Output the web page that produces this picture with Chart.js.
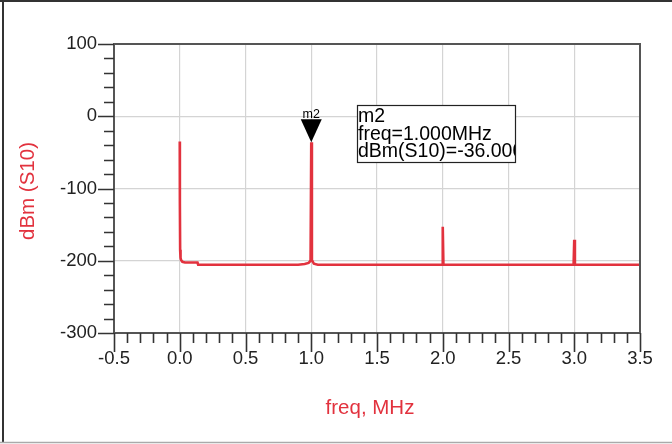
<!DOCTYPE html>
<html>
<head>
<meta charset="utf-8">
<script src="https://cdn.jsdelivr.net/npm/chart.js@4/dist/chart.umd.min.js"></script>
<style>
  html, body { margin: 0; padding: 0; background: #fff; }
  #wrap { width: 672px; height: 444px; position: relative; }
</style>
</head>
<body>
<div id="wrap"><canvas id="c" width="672" height="444"></canvas></div>
<script>
// ---- data ----
const freqMHz = [0, 0.001, 0.003, 0.006, 0.01, 0.02, 0.04, 0.07, 0.1, 0.135, 0.14, 0.5, 0.9, 0.95, 0.98, 0.99, 0.995, 1.0, 1.005, 1.01, 1.02, 1.05, 1.5, 1.995, 2.0, 2.005, 2.5, 2.995, 3.0, 3.005, 3.5];
const dBmS10  = [-35, -120, -185, -196, -199, -201.5, -202.5, -202.5, -202.5, -202.5, -205.5, -205.5, -205.5, -204.5, -203, -201, -199, -36, -199, -201, -204, -205.5, -205.5, -205.5, -153, -205.5, -205.5, -205.5, -171, -205.5, -205.5];
const xTickLabels = ["-0.5", "0.0", "0.5", "1.0", "1.5", "2.0", "2.5", "3.0", "3.5"];
const yTickLabels = ["100", "0", "-100", "-200", "-300"];
const markerName = "m2";
const markerFreq = 1.0;
const markerValue = -36.0;
const seriesName = "dBm(S10)";
const xTitle = "freq, MHz";
const yTitle = "dBm (S10)";

const RED = '#e2323e';
const FONT = '"Liberation Sans", Arial, sans-serif';

const points = freqMHz.map((f, i) => ({ x: f, y: dBmS10[i] }));

function isMajorX(v) { return Math.abs(v * 2 - Math.round(v * 2)) < 1e-6; }
function isMajorY(v) { return Math.abs(v / 100 - Math.round(v / 100)) < 1e-6; }

const decor = {
  id: 'decor',
  beforeDraw(chart) {
    const ctx = chart.ctx;
    ctx.save();
    ctx.fillStyle = '#fff';
    ctx.fillRect(0, 0, chart.width, chart.height);
    ctx.restore();
  },
  afterDraw(chart) {
    const ctx = chart.ctx;
    const a = chart.chartArea;
    const xs = chart.scales.x, ys = chart.scales.y;
    ctx.save();
    // plot frame (top & right)
    ctx.strokeStyle = '#555';
    ctx.lineWidth = 2;
    ctx.beginPath();
    ctx.moveTo(a.left, a.top); ctx.lineTo(a.right, a.top); ctx.lineTo(a.right, a.bottom);
    ctx.stroke();
    // tick marks
    ctx.lineWidth = 1.6;
    ctx.strokeStyle = '#333';
    ctx.beginPath();
    xs.ticks.forEach(t => {
      const px = Math.round(xs.getPixelForValue(t.value)) + 0.5;
      const len = isMajorX(t.value) ? 19 : 10;
      ctx.moveTo(px, a.bottom); ctx.lineTo(px, a.bottom + len);
    });
    ys.ticks.forEach(t => {
      const py = Math.round(ys.getPixelForValue(t.value)) + 0.5;
      const len = isMajorY(t.value) ? 16 : 10;
      ctx.moveTo(a.left, py); ctx.lineTo(a.left - len, py);
    });
    ctx.stroke();

    // axis titles
    ctx.fillStyle = RED;
    ctx.font = '20.5px ' + FONT;
    ctx.textAlign = 'center';
    ctx.textBaseline = 'middle';
    ctx.fillText(xTitle, 370, 408);
    ctx.save();
    ctx.translate(28, 191);
    ctx.rotate(-Math.PI / 2);
    ctx.fillText(yTitle, 0, 0);
    ctx.restore();

    // marker triangle
    const mx = xs.getPixelForValue(markerFreq);
    const my = ys.getPixelForValue(markerValue);
    ctx.fillStyle = '#000';
    ctx.beginPath();
    ctx.moveTo(mx, my);
    ctx.lineTo(mx - 10.5, my - 23);
    ctx.lineTo(mx + 10.5, my - 23);
    ctx.closePath();
    ctx.fill();
    ctx.font = '12.5px ' + FONT;
    ctx.textBaseline = 'alphabetic';
    ctx.fillText(markerName, mx, my - 24);

    // marker readout box
    const bx = 357, by = 105, bw = 158, bh = 57;
    ctx.fillStyle = '#fff';
    ctx.fillRect(bx, by, bw, bh);
    ctx.strokeStyle = '#222';
    ctx.lineWidth = 1.2;
    ctx.strokeRect(bx + 0.5, by + 0.5, bw, bh);
    ctx.save();
    ctx.beginPath();
    ctx.rect(bx, by, bw, bh);
    ctx.clip();
    ctx.fillStyle = '#000';
    ctx.font = '19.5px ' + FONT;
    ctx.textAlign = 'left';
    ctx.textBaseline = 'middle';
    const lines = [markerName, 'freq=' + markerFreq.toFixed(3) + 'MHz', seriesName + '=' + markerValue.toFixed(3)];
    lines.forEach((s, i) => ctx.fillText(s, bx + 1, by + 12 + i * 17.5));
    ctx.restore();

    // outer frame of the picture
    ctx.strokeStyle = '#333';
    ctx.lineWidth = 2;
    ctx.beginPath();
    ctx.moveTo(0, 1); ctx.lineTo(chart.width, 1);
    ctx.moveTo(3, 0); ctx.lineTo(3, chart.height - 2);
    ctx.stroke();
    ctx.strokeStyle = '#aaa';
    ctx.lineWidth = 1.5;
    ctx.beginPath();
    ctx.moveTo(0, 442.5); ctx.lineTo(chart.width, 442.5);
    ctx.stroke();
    ctx.restore();
  }
};

new Chart(document.getElementById('c'), {
  type: 'scatter',
  data: {
    datasets: [{
      label: seriesName,
      data: points,
      showLine: true,
      borderColor: RED,
      backgroundColor: RED,
      borderWidth: 2.6,
      pointRadius: 0,
      tension: 0,
      clip: 2
    }]
  },
  options: {
    responsive: false,
    animation: false,
    devicePixelRatio: 1,
    layout: { padding: { top: 44, right: 32, left: 0, bottom: 0 } },
    plugins: { legend: { display: false }, tooltip: { enabled: false } },
    scales: {
      x: {
        type: 'linear',
        min: -0.5, max: 3.5,
        afterFit(s) { s.height = 111; },
        afterBuildTicks(s) {
          const t = [];
          for (let i = 0; i <= 40; i++) t.push({ value: Math.round((-0.5 + i * 0.1) * 10) / 10 });
          s.ticks = t;
        },
        ticks: {
          autoSkip: false,
          maxRotation: 0,
          padding: 15,
          color: '#222',
          font: { family: FONT, size: 18.5 },
          callback(v) {
            if (!isMajorX(v)) return '';
            const idx = Math.round((v + 0.5) * 2);
            return xTickLabels[idx];
          }
        },
        grid: {
          drawTicks: false,
          color: c => (c.tick && isMajorX(c.tick.value)) ? '#d4d4d4' : 'rgba(0,0,0,0)',
          lineWidth: 1.2
        },
        border: { display: true, color: '#555', width: 2 }
      },
      y: {
        type: 'linear',
        min: -300, max: 100,
        afterFit(s) { s.width = 114; },
        afterBuildTicks(s) {
          const t = [];
          for (let i = 0; i <= 20; i++) t.push({ value: -300 + i * 20 });
          s.ticks = t;
        },
        ticks: {
          autoSkip: false,
          padding: 17,
          color: '#222',
          font: { family: FONT, size: 18.5 },
          callback(v) {
            if (!isMajorY(v)) return '';
            const idx = Math.round((100 - v) / 100);
            return yTickLabels[idx];
          }
        },
        grid: {
          drawTicks: false,
          color: c => (c.tick && isMajorY(c.tick.value)) ? '#d4d4d4' : 'rgba(0,0,0,0)',
          lineWidth: 1.2
        },
        border: { display: true, color: '#555', width: 2 }
      }
    }
  },
  plugins: [decor]
});
</script>
</body>
</html>
